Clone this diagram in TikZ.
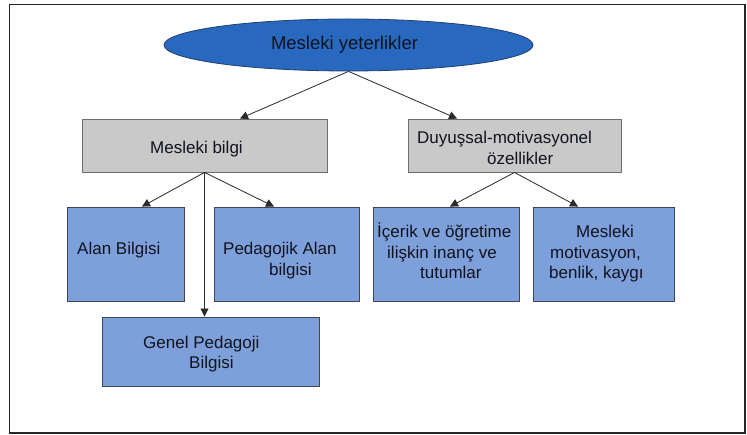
\documentclass[tikz,border=0pt]{standalone}
\usepackage{fontspec}
\setmainfont{Liberation Sans}
\usetikzlibrary{arrows.meta,shapes.geometric,calc}

\definecolor{framec}{HTML}{262626}
\definecolor{linec}{HTML}{2A2A2A}
\definecolor{txt}{HTML}{11131F}
\definecolor{ovalfill}{HTML}{2868BE}
\definecolor{ovaldraw}{HTML}{22406E}
\definecolor{greyfill}{HTML}{C9C9C9}
\definecolor{greydraw}{HTML}{6E6E6E}
\definecolor{bluefill}{HTML}{7EA0DA}
\definecolor{bluedraw}{HTML}{3E4654}

\tikzset{
  box/.style={rectangle, inner sep=0pt, line width=0.9pt},
  greybox/.style={box, fill=greyfill, draw=greydraw},
  bluebox/.style={box, fill=bluefill, draw=bluedraw},
  lbl/.style={anchor=base west, inner sep=0pt, text=txt,
              font=\fontsize{17}{20}\selectfont},
  link/.style={draw=linec, line width=0.8pt,
               -{Triangle[length=8pt,width=8pt]}},
}

\begin{document}
\begin{tikzpicture}[x=1pt, y=-1pt]
  \useasboundingbox (0,0) rectangle (747,435);

  % outer frame
  \draw[framec, line width=1.5pt] (9.5,4.5) rectangle (745,433);

  % top oval
  \node[ellipse, fill=ovalfill, draw=ovaldraw, line width=0.8pt,
        minimum width=369pt, minimum height=52pt, inner sep=0pt]
        (top) at (348.5,45) {};
  \node[anchor=base, inner sep=0pt, text=txt,
        font=\fontsize{18.5}{22}\selectfont]
        (topt) at (344.5,49.5) {Mesleki yeterlikler};

  % second level (grey)
  \node[greybox, minimum width=245pt, minimum height=53pt]
        (mb) at (204.5,145.5) {};
  \node[lbl] (mbt) at (150,154) {Mesleki bilgi};

  \node[greybox, minimum width=213pt, minimum height=53pt]
        (dm) at (514.5,145.5) {};
  \node[lbl] (dmt1) at (417,144) {Duyuşsal-motivasyonel};
  \node[lbl] (dmt2) at (487,165) {özellikler};

  % third level (blue)
  \node[bluebox, minimum width=117pt, minimum height=94pt]
        (ab) at (125.5,254) {};
  \node[lbl] (abt) at (77,255) {Alan Bilgisi};

  \node[bluebox, minimum width=145pt, minimum height=94pt]
        (pa) at (286.5,254) {};
  \node[lbl] (pat1) at (223,255) {Pedagojik Alan};
  \node[lbl] (pat2) at (269,276) {bilgisi};

  \node[bluebox, minimum width=146pt, minimum height=94pt]
        (ic) at (446,254) {};
  \node[lbl] (ict1) at (377,238) {İçerik ve öğretime};
  \node[lbl] (ict2) at (387,259) {ilişkin inanç ve};
  \node[lbl] (ict3) at (420,279) {tutumlar};

  \node[bluebox, minimum width=141pt, minimum height=94pt]
        (mm) at (603.5,254) {};
  \node[lbl] (mmt1) at (576,238) {Mesleki};
  \node[lbl] (mmt2) at (550,259) {motivasyon,};
  \node[lbl] (mmt3) at (549,279) {benlik, kaygı};

  \node[bluebox, minimum width=217pt, minimum height=69pt]
        (gp) at (210.5,351.5) {};
  \node[lbl] (gpt1) at (143,349) {Genel Pedagoji};
  \node[lbl] (gpt2) at (189,369) {Bilgisi};

  % connectors
  \draw[link] (top.south) -- ([xshift=35.5pt]mb.north);
  \draw[link] (top.south) -- ([xshift=-57.5pt]dm.north);

  \draw[link] (mb.south) -- ([xshift=16.5pt]ab.north);
  \draw[link] (mb.south) -- ([xshift=-12.5pt]pa.north);
  \draw[link] (mb.south) -- (mb.south |- gp.north);

  \draw[link] (dm.south) -- ([xshift=4pt]ic.north);
  \draw[link] (dm.south) -- ([xshift=-25.5pt]mm.north);
\end{tikzpicture}
\end{document}
